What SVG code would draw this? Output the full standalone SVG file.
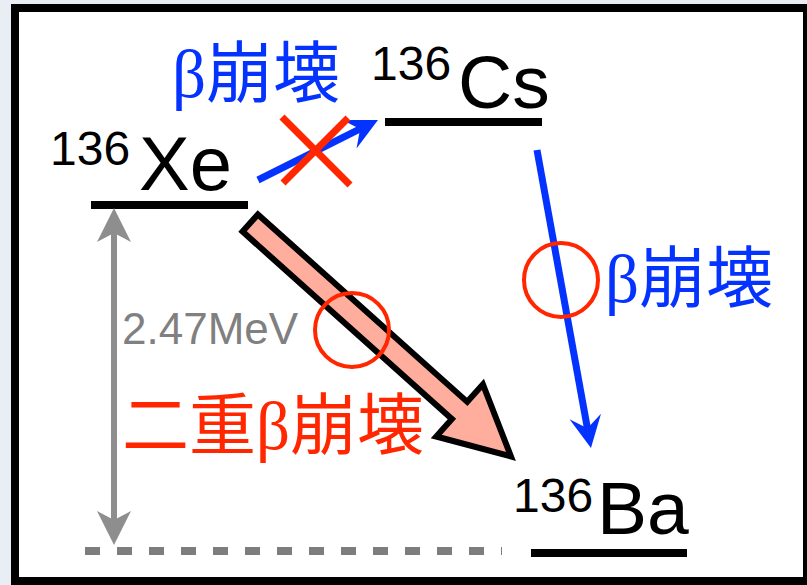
<svg xmlns="http://www.w3.org/2000/svg" width="807" height="585" viewBox="0 0 807 585">
  <style>
    .lvl { stroke: #000; stroke-width: 8; }
    .sup { font-family: "Liberation Sans", Arial, sans-serif; font-size: 48px; fill: #000; }
    .el { font-family: "Liberation Sans", Arial, sans-serif; font-size: 75px; fill: #000; }
    .jp { font-family: "Noto Sans CJK JP", sans-serif; font-size: 67px; }
    .beta { font-family: "Liberation Serif", "Times New Roman", serif; }
    .blue { fill: #0433ff; }
    .red { fill: #ff2600; }
    .ring { fill: none; stroke: #ff2600; stroke-width: 4; }
  </style>
  <defs>
    <marker id="blueHead" markerUnits="userSpaceOnUse" markerWidth="40" markerHeight="40" viewBox="0 -20 40 40" refX="12" refY="0" orient="auto">
      <path d="M0,-16 L32,0 L0,16 L12,0 Z" fill="#0433ff"/>
    </marker>
    <marker id="grayHead" markerUnits="userSpaceOnUse" markerWidth="40" markerHeight="40" viewBox="0 -20 40 40" refX="9" refY="0" orient="auto-start-reverse">
      <path d="M0,-17 L34,0 L0,17 L9,0 Z" fill="#8e8e8e"/>
    </marker>
  </defs>

  <rect x="0" y="0" width="807" height="585" fill="#e8eef4"/>
  <rect id="frame" x="15" y="8" width="792" height="573" fill="#ffffff" stroke="#000" stroke-width="8"/>

  <g id="node-Xe">
    <line class="lvl" x1="91" y1="205" x2="248" y2="205"/>
    <text class="sup" x="50" y="165">136</text>
    <text class="el" x="139" y="190" style="font-size:76px">Xe</text>
  </g>

  <g id="node-Cs">
    <line class="lvl" x1="385" y1="122" x2="542" y2="122"/>
    <text class="sup" x="371" y="80">136</text>
    <text class="el" x="458" y="108">Cs</text>
  </g>

  <g id="node-Ba">
    <line class="lvl" x1="531" y1="553" x2="687" y2="553"/>
    <text class="sup" x="513" y="512">136</text>
    <text class="el" x="597" y="534">Ba</text>
  </g>

  <g id="ground">
    <line x1="85" y1="551" x2="502" y2="551" stroke="#7d7d7d" stroke-width="8" stroke-dasharray="15 17"/>
  </g>

  <g id="connectors">
    <line id="energy-gap" x1="114" y1="233" x2="114" y2="520" stroke="#8e8e8e" stroke-width="6" marker-start="url(#grayHead)" marker-end="url(#grayHead)"/>
    <line id="xe-to-cs" x1="258" y1="180" x2="360.1" y2="128.9" stroke="#0433ff" stroke-width="7" marker-end="url(#blueHead)"/>
    <line id="cs-to-ba" x1="537" y1="150" x2="587.4" y2="428.3" stroke="#0433ff" stroke-width="7" marker-end="url(#blueHead)"/>
    <polygon id="xe-to-ba" transform="translate(248,221) rotate(41.84)" points="3,-11.5 284,-11.5 284,-35 353,0 284,35 284,11.5 3,11.5" fill="#ffae9e" stroke="#000" stroke-width="6" stroke-linejoin="miter"/>
  </g>

  <g id="marks">
    <line x1="282" y1="117" x2="350" y2="185" stroke="#ff2600" stroke-width="7"/>
    <line x1="348" y1="118" x2="283" y2="183" stroke="#ff2600" stroke-width="7"/>
    <circle class="ring" cx="561" cy="280" r="37"/>
    <circle class="ring" cx="352" cy="330" r="37"/>
  </g>

  <g id="labels">
    <text class="jp blue" x="172" y="97"><tspan class="beta">β</tspan>崩壊</text>
    <text class="jp blue" x="605" y="302"><tspan class="beta">β</tspan>崩壊</text>
    <text class="jp red" x="122" y="449">二重<tspan class="beta">β</tspan>崩壊</text>
    <text x="122" y="344" font-family="Liberation Sans, Arial, sans-serif" font-size="44" fill="#808080">2.47MeV</text>
  </g>
</svg>
